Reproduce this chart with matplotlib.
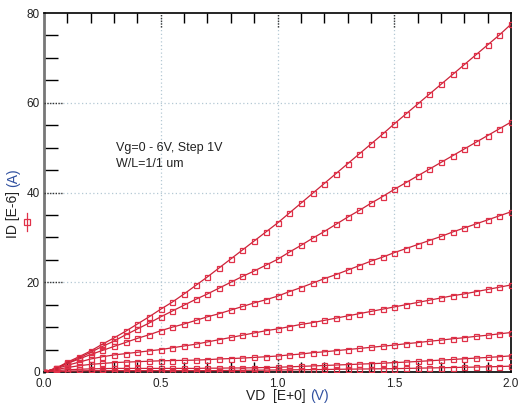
import matplotlib
matplotlib.use("Agg")
import matplotlib.pyplot as plt
import matplotlib.transforms as mtransforms
from matplotlib.lines import Line2D
import numpy as np

plt.rcParams['font.family'] = ['Liberation Sans', 'DejaVu Sans']

# --- data (ID in uA, VD step 0.05 V) ---
vd = [round(0.05 * i, 2) for i in range(41)]

id_vg6 = [0.0, 0.8, 2.2, 3.4, 4.7, 6.2, 7.6, 9.1, 10.7, 12.3, 14.0,
          15.6, 17.4, 19.3, 21.2, 23.2, 25.2, 27.2, 29.2, 31.2, 33.2,
          35.4, 37.6, 39.8, 42.0, 44.2, 46.4, 48.6, 50.8, 53.0, 55.3,
          57.5, 59.7, 61.9, 64.1, 66.3, 68.5, 70.7, 72.9, 75.1, 77.5]
id_vg5 = [0.0, 0.8, 2.0, 3.1, 4.4, 5.7, 6.9, 8.3, 9.6, 10.9, 12.3,
          13.6, 14.9, 16.2, 17.4, 18.7, 20.0, 21.3, 22.5, 23.8, 25.1,
          26.7, 28.2, 29.8, 31.3, 32.9, 34.5, 36.0, 37.6, 39.1, 40.7,
          42.2, 43.7, 45.2, 46.7, 48.2, 49.7, 51.2, 52.7, 54.2, 55.7]
id_vg4 = [0.0, 0.8, 1.9, 2.9, 3.9, 4.8, 5.7, 6.6, 7.5, 8.3, 9.2,
          10.0, 10.7, 11.5, 12.3, 13.0, 13.8, 14.6, 15.4, 16.1, 16.9,
          17.9, 18.8, 19.8, 20.8, 21.7, 22.7, 23.7, 24.7, 25.6, 26.6,
          27.5, 28.4, 29.3, 30.2, 31.2, 32.1, 33.0, 33.9, 34.8, 35.7]
id_vg3 = [0.0, 0.7, 1.5, 2.2, 2.9, 3.4, 3.8, 4.1, 4.4, 4.7, 5.0,
          5.4, 5.8, 6.2, 6.7, 7.2, 7.7, 8.2, 8.7, 9.2, 9.6,
          10.1, 10.6, 11.0, 11.5, 12.0, 12.5, 13.0, 13.5, 14.0, 14.5,
          15.0, 15.5, 16.0, 16.5, 17.0, 17.4, 17.9, 18.4, 18.9, 19.4]
id_vg2 = [0.0, 0.5, 1.0, 1.4, 1.7, 1.9, 2.1, 2.2, 2.3, 2.4, 2.5,
          2.55, 2.6, 2.65, 2.75, 2.9, 3.0, 3.1, 3.25, 3.4, 3.56,
          3.8, 4.0, 4.3, 4.5, 4.75, 5.0, 5.25, 5.5, 5.75, 6.0,
          6.3, 6.55, 6.85, 7.1, 7.4, 7.65, 7.95, 8.2, 8.5, 8.8]
id_vg1 = [0.0, 0.3, 0.5, 0.6, 0.7, 0.75, 0.8, 0.8, 0.8, 0.8, 0.8,
          0.8, 0.8, 0.8, 0.85, 0.85, 0.9, 0.9, 0.95, 1.0, 1.05,
          1.15, 1.25, 1.35, 1.45, 1.55, 1.65, 1.75, 1.85, 1.95, 2.1,
          2.2, 2.35, 2.5, 2.65, 2.8, 2.95, 3.1, 3.25, 3.4, 3.6]
id_vg0 = [0.0, 0.1, 0.2, 0.25, 0.3, 0.3, 0.3, 0.3, 0.3, 0.3, 0.3,
          0.3, 0.3, 0.3, 0.3, 0.32, 0.35, 0.37, 0.4, 0.42, 0.45,
          0.48, 0.5, 0.53, 0.56, 0.6, 0.63, 0.66, 0.69, 0.72, 0.75,
          0.8, 0.85, 0.9, 0.95, 1.0, 1.05, 1.1, 1.15, 1.22, 1.3]

curves = [id_vg0, id_vg1, id_vg2, id_vg3, id_vg4, id_vg5, id_vg6]

line_col = '#cc2238'
mark_col = '#e03048'

fig = plt.figure(figsize=(5.18, 4.07), dpi=100)
ax = fig.add_axes([0.085, 0.086, 0.9015, 0.882])

for ids in curves:
    ax.plot(vd, ids, color=line_col, linewidth=0.9, marker='s', markersize=3.6,
            markerfacecolor='none', markeredgecolor=mark_col, markeredgewidth=0.9,
            zorder=3)

ax.set_xlim(0, 2)
ax.set_ylim(0, 80)

# grid (light dotted) at the major positions
xmaj = [0.5, 1.0, 1.5]
ymaj = [20, 40, 60]
for x in xmaj:
    ax.axvline(x, color='#b4c8d4', linestyle=(0, (1, 2)), linewidth=0.9, zorder=1)
for y in ymaj:
    ax.axhline(y, color='#b4c8d4', linestyle=(0, (1, 2)), linewidth=0.9, zorder=1)

# darker dotted stubs at major tick positions
tx = mtransforms.blended_transform_factory(ax.transData, ax.transAxes)
ty = mtransforms.blended_transform_factory(ax.transAxes, ax.transData)
for x in xmaj:
    ax.plot([x, x], [0.96, 1.0], transform=tx, color='#333333',
            linestyle=(0, (1, 1)), linewidth=1, zorder=4, clip_on=False)
    ax.plot([x, x], [0.0, 0.04], transform=tx, color='#333333',
            linestyle=(0, (1, 1)), linewidth=1, zorder=4, clip_on=False)
for y in ymaj:
    ax.plot([0.0, 0.04], [y, y], transform=ty, color='#333333',
            linestyle=(0, (1, 1)), linewidth=1, zorder=4, clip_on=False)

# ticks
ax.set_xticks([0.0, 0.5, 1.0, 1.5, 2.0])
ax.set_xticklabels(['0.0', '0.5', '1.0', '1.5', '2.0'])
ax.set_xticks(np.arange(0.1, 2.0, 0.1), minor=True)
ax.set_yticks([0, 20, 40, 60, 80])
ax.set_yticks(np.arange(5, 80, 5), minor=True)
ax.tick_params(axis='both', which='major', length=0, labelsize=8.5,
               colors='#222222')
ax.tick_params(axis='x', which='major', pad=4)
ax.tick_params(axis='y', which='major', pad=3)
ax.tick_params(axis='x', which='minor', direction='in', length=7, width=1,
               top=True, bottom=True, color='black')
ax.tick_params(axis='y', which='minor', direction='in', length=10, width=1,
               left=True, right=False, color='black')

for s in ['top', 'right', 'bottom']:
    ax.spines[s].set_color('black')
    ax.spines[s].set_linewidth(1.2)
ax.spines['left'].set_color('#777777')
ax.spines['left'].set_linewidth(2)

# axis labels with blue unit part
fig.text(0.598, 0.016, 'VD  [E+0] ', ha='right', va='baseline', fontsize=10,
         color='#222222')
fig.text(0.598, 0.016, '(V)', ha='left', va='baseline', fontsize=10,
         color='#3050a0')
fig.text(0.026, 0.54, 'ID [E-6] ', ha='center', va='top', rotation=90,
         fontsize=10, color='#222222')
fig.text(0.026, 0.54, '(A)', ha='center', va='bottom', rotation=90,
         fontsize=10, color='#3050a0')
# legend-like marker next to the y label
fig.add_artist(Line2D([0.053], [0.455], marker='s', markersize=4,
                      markerfacecolor='none', markeredgecolor=mark_col,
                      markeredgewidth=0.9, transform=fig.transFigure))
fig.add_artist(Line2D([0.053, 0.053], [0.433, 0.477], color=mark_col,
                      linewidth=0.9, transform=fig.transFigure))

ax.text(0.31, 50.0, 'Vg=0 - 6V, Step 1V', fontsize=9, color='#222222',
        va='center')
ax.text(0.31, 46.3, 'W/L=1/1 um', fontsize=9, color='#222222', va='center')

fig.savefig('out.png', dpi=100)
